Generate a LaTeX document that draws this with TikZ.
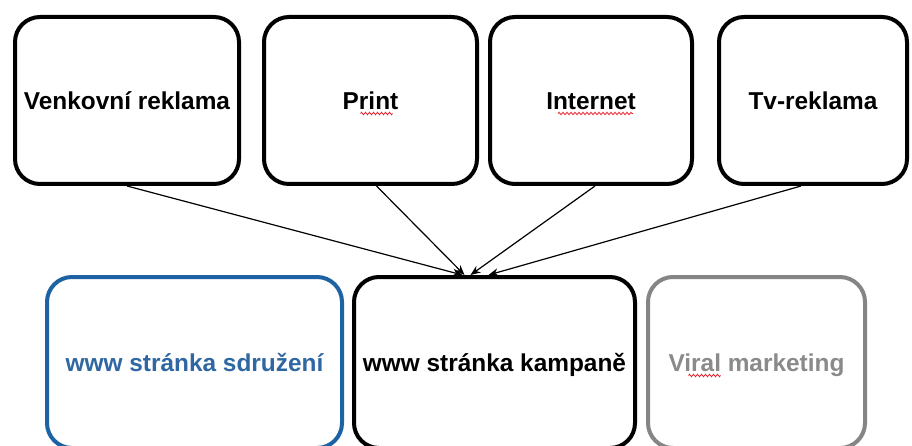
\documentclass[tikz,border=0pt]{standalone}
\usepackage{fontspec}
\setmainfont{Liberation Sans}
\usetikzlibrary{arrows.meta,decorations.pathmorphing}

\definecolor{siteblue}{HTML}{1D62A2}
\definecolor{siteblueText}{HTML}{2F67A3}
\definecolor{viralgray}{HTML}{858585}
\definecolor{viralgrayText}{HTML}{8A8A8A}
\definecolor{squiggle}{HTML}{E8202A}

\tikzset{
  box/.style={draw=black, line width=4pt, rounded corners=25pt, fill=white,
    font=\fontsize{24.4}{29}\selectfont\bfseries,
    text height=17.5pt, text depth=0pt, inner sep=0pt},
  sitebox/.style={box, draw=siteblue, text=siteblueText},
  viralbox/.style={box, draw=viralgray, text=viralgrayText},
  feed/.style={line width=1.2pt, -{Stealth[length=10pt,width=8pt]}},
  spell/.style={squiggle, line width=0.8pt,
    decorate, decoration={zigzag, segment length=4pt, amplitude=1.2pt}}
}

\begin{document}
\begin{tikzpicture}[x=1pt, y=-1pt]
  \useasboundingbox (0,0) rectangle (912,446);
  \fill[white] (0,0) rectangle (912,446);
  \clip (0,0) rectangle (912,446);

  % media channels
  \node[box, minimum width=224pt, minimum height=167pt] (venk) at (127,100.5) {Venkovní reklama};
  \node[box, minimum width=213pt, minimum height=167pt] (print) at (370.5,100.5) {Print};
  \node[box, minimum width=202pt, minimum height=167pt] (inet) at (591,100.5) {Internet};
  \node[box, minimum width=188pt, minimum height=167pt] (tv) at (813,100.5) {Tv-reklama};

  % web presence
  \node[sitebox, minimum width=295pt, minimum height=171pt] (sdr) at (194.5,362.5) {www stránka sdružení};
  \node[box, minimum width=281pt, minimum height=171pt] (kamp) at (494.5,362.5) {www stránka kampaně};
  \node[viralbox, minimum width=217pt, minimum height=171pt] (viral) at (756.5,362.5) {Viral marketing};

  % every channel leads to the campaign site
  \draw[feed] (venk.south) -- ([xshift=-32pt]kamp.north);
  \draw[feed] ([xshift=6pt]print.south) -- ([xshift=-30pt]kamp.north);
  \draw[feed] ([xshift=4pt]inet.south) -- ([xshift=-24pt]kamp.north);
  \draw[feed] ([xshift=-12pt]tv.south) -- ([xshift=-6pt]kamp.north);

  % wavy underlines of the spell checker
  \draw[spell] ([xshift=-10pt,yshift=-13pt]print.center) -- ([xshift=22pt,yshift=-13pt]print.center);
  \draw[spell] ([xshift=-33pt,yshift=-13pt]inet.center) -- ([xshift=42pt,yshift=-13pt]inet.center);
  \draw[spell] ([xshift=-68pt,yshift=-13pt]viral.center) -- ([xshift=-36pt,yshift=-13pt]viral.center);
\end{tikzpicture}
\end{document}
